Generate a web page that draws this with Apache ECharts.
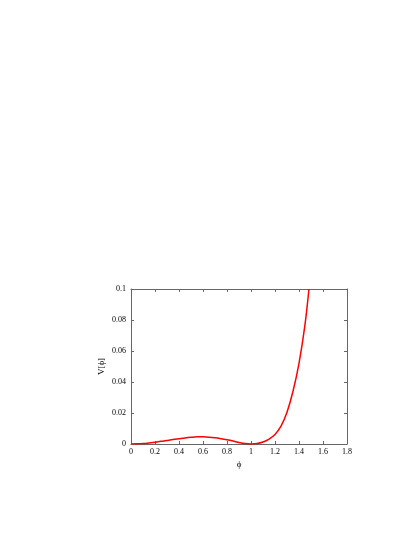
<!DOCTYPE html>
<html>
<head>
<meta charset="utf-8">
<script src="https://cdn.jsdelivr.net/npm/echarts@6/dist/echarts.min.js"></script>
<style>
  html, body { margin: 0; padding: 0; background: #fff; }
  #chart { width: 415px; height: 537px; }
</style>
</head>
<body>
<div id="chart"></div>
<script>
// values
const phi = [0, 0.05, 0.1, 0.15, 0.2, 0.25, 0.3, 0.35, 0.4, 0.45, 0.5, 0.55, 0.6, 0.65, 0.7,
  0.75, 0.8, 0.85, 0.9, 0.95, 1.0, 1.05, 1.1, 1.15, 1.2, 1.25, 1.3, 1.35, 1.4, 1.45, 1.483];
const potential = [0, 0.0001, 0.0003, 0.0007, 0.0012, 0.0017, 0.0023, 0.0029, 0.0034, 0.0039,
  0.0043, 0.0046, 0.0046, 0.0044, 0.0040, 0.0034, 0.0027, 0.0019, 0.0010, 0.0003, 0,
  0.0003, 0.0013, 0.0032, 0.0062, 0.0115, 0.0205, 0.0340, 0.0520, 0.0770, 0.1];
const xTicks = [0, 0.2, 0.4, 0.6, 0.8, 1, 1.2, 1.4, 1.6, 1.8];
const yTicks = [0, 0.02, 0.04, 0.06, 0.08, 0.1];

const chart = echarts.init(document.getElementById("chart"));
const font = "Liberation Serif";
const frame = "#666";

const points = phi.map((x, i) => [x, potential[i]]);

const axisCommon = {
  type: "value",
  axisLine: { show: true, onZero: false, lineStyle: { color: frame, width: 1 } },
  axisTick: { show: true, inside: true, length: 3, lineStyle: { color: frame } },
  splitLine: { show: false }
};

chart.setOption({
  animation: false,
  backgroundColor: "#fff",
  grid: { left: 131, top: 289, width: 216, height: 155, containLabel: false },
  xAxis: [
    Object.assign({}, axisCommon, {
      min: 0, max: 1.8, interval: 0.2,
      name: "ϕ", nameLocation: "middle", nameGap: 16, nameMoveOverlap: false,
      nameTextStyle: { fontFamily: font, fontSize: 9, color: "#000" },
      axisLabel: {
        fontFamily: font, fontSize: 8, color: "#000", margin: 4,
        formatter: v => (xTicks.indexOf(+v.toFixed(1)) >= 0 ? String(+v.toFixed(1)) : "")
      }
    }),
    Object.assign({}, axisCommon, {
      position: "top", min: 0, max: 1.8, interval: 0.2, axisLabel: { show: false }
    })
  ],
  yAxis: [
    Object.assign({}, axisCommon, {
      min: 0, max: 0.1, interval: 0.02,
      name: "V[ϕ]", nameLocation: "middle", nameGap: 25, nameRotate: 90, nameMoveOverlap: false,
      nameTextStyle: { fontFamily: font, fontSize: 9, color: "#000" },
      axisLabel: {
        fontFamily: font, fontSize: 8, color: "#000", margin: 5,
        formatter: v => (yTicks.indexOf(+v.toFixed(2)) >= 0 ? String(+v.toFixed(2)) : "")
      }
    }),
    Object.assign({}, axisCommon, {
      position: "right", min: 0, max: 0.1, interval: 0.02, axisLabel: { show: false }
    })
  ],
  series: [
    {
      type: "line",
      data: points,
      smooth: 0.3,
      showSymbol: false,
      clip: true,
      lineStyle: { color: "#ff0000", width: 1.5 }
    }
  ]
});
</script>
</body>
</html>
